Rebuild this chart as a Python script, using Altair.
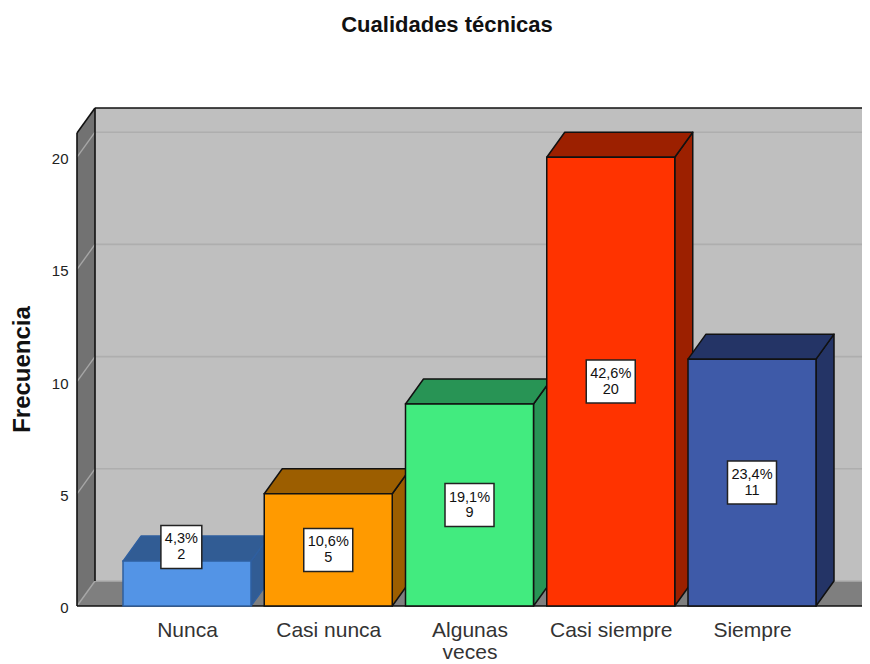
import json
import altair as alt
import pandas as pd

categories = ["Nunca", "Casi nunca", "Algunas\nveces", "Casi siempre", "Siempre"]
values = [2, 5, 9, 20, 11]
percents = ["4,3%", "10,6%", "19,1%", "42,6%", "23,4%"]
label_levels = [2.63, 2.5, 4.5, 10, 5.5]
label_centers = [-0.04, 1, 2, 3, 4]
front_colors = ["#5394E6", "#FF9A00", "#42EB7F", "#FF3300", "#3E5AA8"]
dark_colors = ["#315C94", "#9C5E00", "#289455", "#9C2000", "#243466"]
edge_colors = ["#2F5F9F", "#111111", "#111111", "#111111", "#111111"]
y_ticks = [0, 5, 10, 15, 20]

WALL_BACK = "#BFBFBF"
WALL_SIDE = "#727272"
FLOOR = "#7F7F7F"
GRID = "#AEAEAE"
GRID_SIDE = "#A6A6A6"

# scale geometry
PX_X = 141.25      # pixels per category step
PX_Y = 22.44       # pixels per frequency unit
W, H = 792, 512
X_MIN, X_MAX = -117 / PX_X, 675 / PX_X
Y_MIN, Y_MAX = -6 / PX_Y, 506 / PX_Y
HALF_BAR = 64 / PX_X
DX = 18 / PX_X
DY = 25 / PX_Y
WALL_L = -110 / PX_X
FLOOR_R = 676 / PX_X
WALL_T = 473 / PX_Y

xs = alt.Scale(domain=[X_MIN, X_MAX], nice=False, zero=False)
ys = alt.Scale(domain=[Y_MIN, Y_MAX], nice=False, zero=False)

label_expr = "split(" + json.dumps(categories) + "[datum.value], '\\n')"
x_axis = alt.Axis(
    values=list(range(len(categories))), labelExpr=label_expr, title=None, domain=False, ticks=False,
    grid=False, labelFont="Liberation Sans", labelFontSize=21, labelColor="#333333", labelPadding=7,
    labelLineHeight=22.5, labelBaseline="top", labelOverlap=False, labelFlush=False,
)
y_axis = alt.Axis(
    values=y_ticks, format="d", title="Frecuencia", domain=False, ticks=False, grid=False,
    labelFont="Liberation Sans", labelFontSize=15, labelColor="#222222", labelPadding=2, labelOffset=1.5,
    titleFont="Liberation Sans", titleFontSize=24, titleFontWeight="bold", titleColor="#111111",
    titleX=-48, titleY=269, titleAngle=270, titleAlign="center", titleBaseline="middle",
)


def X(f="x"):
    return alt.X(f"{f}:Q", scale=xs, axis=x_axis, stack=None)


def Y(f="y"):
    return alt.Y(f"{f}:Q", scale=ys, axis=y_axis, stack=None)


bars = pd.DataFrame({
    "cat": categories, "v": values, "pct": percents, "lvl": label_levels, "lc": label_centers,
    "front": front_colors, "dark": dark_colors, "edge": edge_colors,
})
bars["i"] = range(len(bars))
bars["l"] = bars.i - HALF_BAR
bars["r"] = bars.i + HALF_BAR
bars["base"] = 0
bars["label"] = bars.pct + "\n" + bars.v.astype(str)
bars["bw"] = (bars.pct.str.len() * 8.1 + 8.5) / PX_X / 2
bars["bl"] = bars.lc - bars.bw
bars["br"] = bars.lc + bars.bw
bars["bb"] = bars.lvl - 21.5 / PX_Y
bars["bt"] = bars.lvl + 21.5 / PX_Y

side_rows, top_rows = [], []
for _, b in bars.iterrows():
    side_rows.append({"id": b.i, "x": b.r, "y": 0, "y2": b.v, "dark": b.dark, "edge": b.edge})
    side_rows.append({"id": b.i, "x": b.r + DX, "y": DY, "y2": b.v + DY, "dark": b.dark, "edge": b.edge})
    top_rows.append({"id": b.i, "y": b.v, "x": b.l, "x2": b.r, "dark": b.dark, "edge": b.edge})
    top_rows.append({"id": b.i, "y": b.v + DY, "x": b.l + DX, "x2": b.r + DX, "dark": b.dark, "edge": b.edge})
sides = pd.DataFrame(side_rows)
tops = pd.DataFrame(top_rows)

back = alt.Chart(pd.DataFrame({"x": [WALL_L + DX], "x2": [X_MAX], "y": [DY], "y2": [WALL_T + DY]})).mark_rect(
    color=WALL_BACK
).encode(x=X(), x2="x2:Q", y=Y(), y2="y2:Q")

left_wall = alt.Chart(pd.DataFrame({"x": [WALL_L, WALL_L + DX], "y": [0, DY], "y2": [WALL_T, WALL_T + DY]})).mark_area(
    color=WALL_SIDE, opacity=1
).encode(x=X(), y=Y(), y2="y2:Q")

floor = alt.Chart(pd.DataFrame({"y": [0, DY], "x": [WALL_L, WALL_L + DX], "x2": [FLOOR_R, FLOOR_R + DX]})).mark_area(
    color=FLOOR, opacity=1, orient="horizontal", clip=True
).encode(x=X(), x2="x2:Q", y=Y())

grid_back = alt.Chart(pd.DataFrame({"v": y_ticks})).transform_calculate(
    y=f"datum.v + {DY}", x=f"{WALL_L + DX}", x2=f"{X_MAX}"
).mark_rule(color=GRID, strokeWidth=1.6).encode(x=X(), x2="x2:Q", y=Y())

grid_rows = []
for t in y_ticks:
    grid_rows.append({"id": t, "x": WALL_L, "y": t})
    grid_rows.append({"id": t, "x": WALL_L + DX, "y": t + DY})
grid_side = alt.Chart(pd.DataFrame(grid_rows)).mark_line(color=GRID_SIDE, strokeWidth=1.4).encode(
    x=X(), y=Y(), detail="id:N"
)

edge_segments = [
    [(WALL_L, 0), (WALL_L, WALL_T)],
    [(WALL_L, WALL_T), (WALL_L + DX, WALL_T + DY)],
    [(WALL_L + DX, WALL_T + DY), (X_MAX, WALL_T + DY)],
    [(WALL_L + DX, DY), (WALL_L + DX, WALL_T + DY)],
    [(WALL_L, 0), (FLOOR_R, 0)],
    [(FLOOR_R, 0), (FLOOR_R + DX, DY)],
]
edge_rows = [
    {"id": k, "ord": n, "x": p[0], "y": p[1]}
    for k, seg in enumerate(edge_segments) for n, p in enumerate(seg)
]
edges = alt.Chart(pd.DataFrame(edge_rows)).mark_line(color="#111111", strokeWidth=1.6, clip=True).encode(
    x=X(), y=Y(), detail="id:N", order="ord:Q"
)

side_layer = alt.Chart(sides).mark_area(opacity=1, strokeWidth=1.5, strokeJoin="round").encode(
    x=X(), y=Y(), y2="y2:Q", detail="id:N",
    fill=alt.Fill("dark:N", scale=None), stroke=alt.Stroke("edge:N", scale=None),
)
top_layer = alt.Chart(tops).mark_area(opacity=1, strokeWidth=1.5, orient="horizontal", strokeJoin="round").encode(
    x=X(), x2="x2:Q", y=Y(), detail="id:N",
    fill=alt.Fill("dark:N", scale=None), stroke=alt.Stroke("edge:N", scale=None),
)
front_layer = alt.Chart(bars).mark_rect(strokeWidth=1.5).encode(
    x=X("l"), x2="r:Q", y=Y("base"), y2="v:Q",
    fill=alt.Fill("front:N", scale=None), stroke=alt.Stroke("edge:N", scale=None),
)
boxes = alt.Chart(bars).mark_rect(fill="white", stroke="#222222", strokeWidth=1.5).encode(
    x=X("bl"), x2="br:Q", y=Y("bb"), y2="bt:Q"
)
labels = alt.Chart(bars).mark_text(
    font="Liberation Sans", fontSize=14.5, color="#111111", lineBreak="\n", lineHeight=15.5,
    align="center", baseline="middle", dy=-7.5,
).encode(x=X("lc"), y=Y("lvl"), text="label:N")

chart = alt.layer(
    back, left_wall, floor, grid_back, grid_side, edges,
    side_layer, top_layer, front_layer, boxes, labels,
).properties(
    width=W, height=H,
    padding={"left": 62, "top": 92, "right": 0, "bottom": 52},
    autosize=alt.AutoSizeParams(type="none"),
    title=alt.TitleParams(
        "Cualidades técnicas", font="Liberation Sans", fontSize=22, fontWeight="bold", color="#111111",
        anchor="middle", dx=-19, offset=63,
    ),
).configure_view(stroke=None)

chart.save("out.html", embed_options={"renderer": "svg", "actions": False})
